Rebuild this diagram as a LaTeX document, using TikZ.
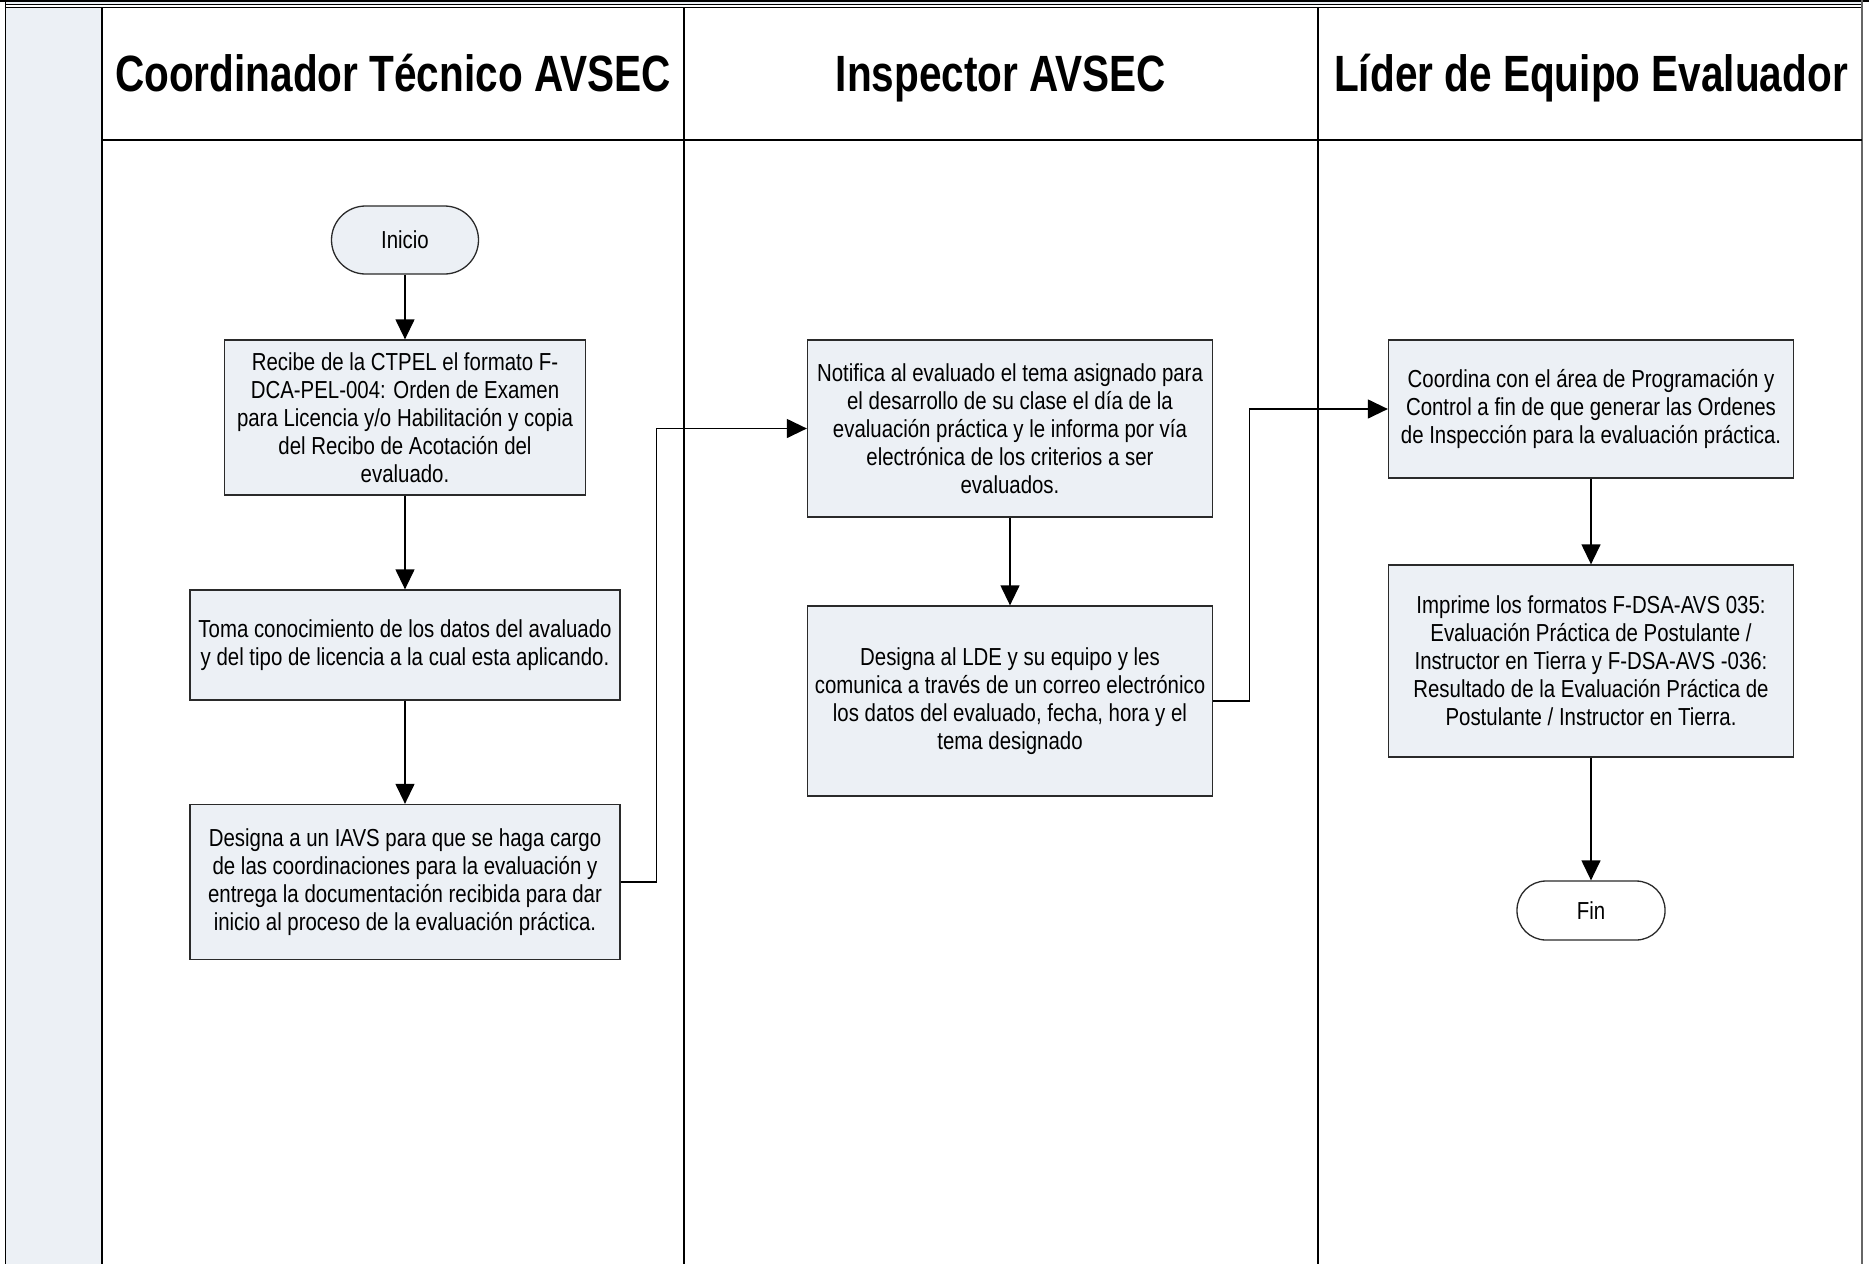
\documentclass[tikz,border=0pt]{standalone}
\usepackage{fontspec}
\setmainfont[FakeStretch=0.83]{Liberation Sans}
\newfontfamily\headfont[FakeStretch=0.795]{Liberation Sans}
\usetikzlibrary{arrows.meta}
\definecolor{boxfill}{HTML}{ECF0F5}
\definecolor{edge}{HTML}{2A2A2A}
\tikzset{
  proc/.style={draw=edge, line width=1.3pt, fill=boxfill, rectangle, inner sep=0pt, align=center,
    font=\fontsize{24.6}{28}\selectfont},
  term/.style={draw=edge, line width=1.3pt, rectangle, rounded corners=29pt, inner sep=0pt, align=center,
    font=\fontsize{24.6}{28}\selectfont},
  arr/.style={draw=black, line width=1.3pt, -{Triangle[width=19pt,length=20pt]}},
  lane/.style={draw=black, line width=1.3pt},
  head/.style={font=\headfont\bfseries\fontsize{51}{57}\selectfont, inner sep=0pt, anchor=base}
}
\begin{document}
\begin{tikzpicture}[x=1pt,y=-1pt]
\useasboundingbox (0,0) rectangle (1869,1264);
% top band
\fill[boxfill] (5.5,1) rectangle (1862,4.5);
\draw[lane] (0,1) -- (1869,1);
\draw[lane] (5.5,4.5) -- (1862,4.5);
\draw[lane] (5.5,7.5) -- (1862,7.5);
% left strip
\fill[boxfill] (5.5,7.5) rectangle (102,1264);
\draw[lane] (5.5,0) -- (5.5,1264);
\draw[draw=black, line width=2pt] (102,7.5) -- (102,1264);
% lanes
\draw[lane] (684,7.5) -- (684,1264);
\draw[lane] (1318,7.5) -- (1318,1264);
\draw[draw=black!60, line width=2.4pt] (1862,0) -- (1862,1264);
\draw[lane] (102,140) -- (1862,140);
% headers
\node[head] (h1) at (393,91.5) {Coordinador Técnico AVSEC};
\node[head] (h2) at (1001,91.5) {Inspector AVSEC};
\node[head] (h3) at (1591,91.5) {Líder de Equipo Evaluador};
% nodes
\node[term, fill=boxfill, rounded corners=34pt, minimum width=147pt, minimum height=68pt] (inicio) at (405,240) {Inicio};
\node[proc, minimum width=361pt, minimum height=155pt] (b1) at (405,417.5)
  {Recibe de la CTPEL el formato F-\\DCA-PEL-004: Orden de Examen\\para Licencia y/o Habilitación y copia\\del Recibo de Acotación del\\evaluado.};
\node[proc, minimum width=430pt, minimum height=110pt] (b2) at (405,645)
  {Toma conocimiento de los datos del avaluado\\y del tipo de licencia a la cual esta aplicando.};
\node[proc, minimum width=430pt, minimum height=155pt] (b3) at (405,882)
  {Designa a un IAVS para que se haga cargo\\de las coordinaciones para la evaluación y\\entrega la documentación recibida para dar\\inicio al proceso de la evaluación práctica.};
\node[proc, minimum width=405pt, minimum height=177pt] (b4) at (1010,428.5)
  {Notifica al evaluado el tema asignado para\\el desarrollo de su clase el día de la\\evaluación práctica y le informa por vía\\electrónica de los criterios a ser\\evaluados.};
\node[proc, minimum width=405pt, minimum height=190pt] (b5) at (1010,701)
  {Designa al LDE y su equipo y les\\comunica a través de un correo electrónico\\los datos del evaluado, fecha, hora y el\\tema designado};
\node[proc, minimum width=405pt, minimum height=138pt] (b6) at (1591,409)
  {Coordina con el área de Programación y\\Control a fin de que generar las Ordenes\\de Inspección para la evaluación práctica.};
\node[proc, minimum width=405pt, minimum height=192pt] (b7) at (1591,661)
  {Imprime los formatos F-DSA-AVS 035:\\Evaluación Práctica de Postulante /\\Instructor en Tierra y F-DSA-AVS -036:\\Resultado de la Evaluación Práctica de\\Postulante / Instructor en Tierra.};
\node[term, fill=white, minimum width=148pt, minimum height=59pt] (fin) at (1591,910.5) {Fin};
% connectors
\draw[arr] (inicio) -- (b1);
\draw[arr] (b1) -- (b2);
\draw[arr] (b2) -- (b3);
\draw[arr] (b3.east) -- ++(36,0) |- (b4.west);
\draw[arr] (b4) -- (b5);
\draw[arr] (b5.east) -- ++(36,0) |- (b6.west);
\draw[arr] (b6) -- (b7);
\draw[arr] (b7) -- (fin);
\end{tikzpicture}
\end{document}
